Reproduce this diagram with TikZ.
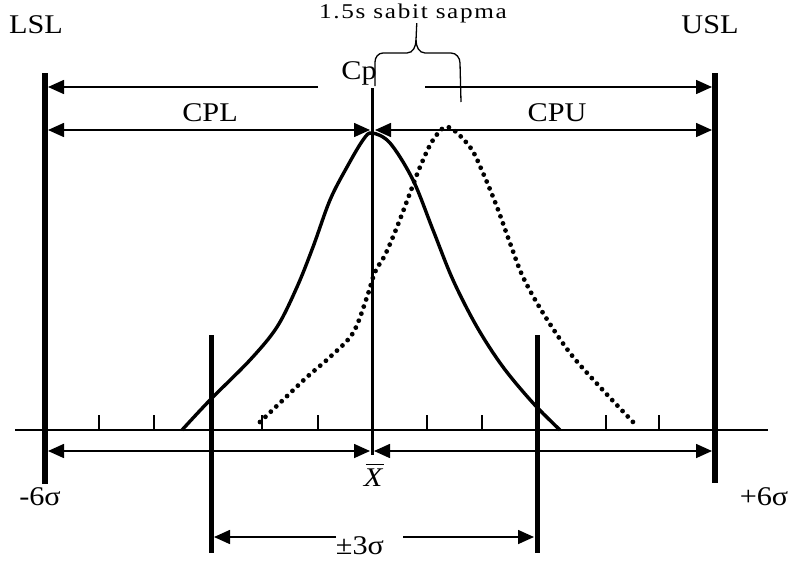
\documentclass[tikz,border=0pt]{standalone}
\usepackage{fontspec}
\setmainfont{Liberation Serif}
\newfontfamily\lblfont[FakeStretch=1.12]{Liberation Serif}
\newfontfamily\smallfont[FakeStretch=1.2, LetterSpace=8]{Liberation Serif}
\usetikzlibrary{arrows.meta}
\begin{document}
\begin{tikzpicture}[x=1pt,y=-1pt,
  lbl/.style={font=\lblfont\fontsize{27}{27}\selectfont, inner sep=0pt},
  smalllbl/.style={font=\smallfont\fontsize{21}{21}\selectfont, inner sep=0pt},
  arr/.style={line width=1.6pt, -{Triangle[length=16pt,width=14pt]}},
  darr/.style={line width=1.6pt, {Triangle[length=16pt,width=14pt]}-{Triangle[length=16pt,width=14pt]}},
  limbar/.style={line width=6pt},
  sigbar/.style={line width=5pt},
  tick/.style={line width=2pt},
  solidcurve/.style={line width=3.4pt, line join=round},
  dotcurve/.style={line width=4.8pt, line cap=round, dash pattern=on 0pt off 7.5pt},
]
\useasboundingbox (0,0) rectangle (789,560);

% limit bars
\coordinate (lslT) at (45,73);  \coordinate (lslB) at (45,484);
\coordinate (uslT) at (715,73); \coordinate (uslB) at (715,483);
\draw[limbar] (lslT) -- (lslB);
\draw[limbar] (uslT) -- (uslB);

% axis
\coordinate (axL) at (15,430); \coordinate (axR) at (768,430);
\draw[line width=1.5pt] (axL) -- (axR);
\foreach \t in {99,154,262,318,427,482,606,659}
  \draw[tick] (\t,430) -- (\t,415);

% sigma bars
\coordinate (m3T) at (211,335); \coordinate (m3B) at (211,553);
\coordinate (p3T) at (537,335); \coordinate (p3B) at (537,553);
\draw[sigbar] (m3T) -- (m3B);
\draw[sigbar] (p3T) -- (p3B);

% center line
\coordinate (cT) at (372,88); \coordinate (cB) at (372,455);
\draw[line width=3pt] (cT) -- (cB);

% curves
\draw[solidcurve] plot[smooth, tension=0.55] coordinates {
 (182,430) (210,400) (250,360) (277,327) (297,287) (313,247) (330,200)
 (347,167) (363,140) (372,133) (390,143) (413,180) (433,230) (453,280)
 (477,327) (503,367) (533,403) (560,430)};
\draw[dotcurve] plot[smooth, tension=0.55] coordinates {
 (260,422) (283,400) (307,377) (330,357) (353,333) (367,297) (375,272)
 (385,255) (397,227) (410,193) (420,167) (433,140) (448,127) (470,147)
 (483,173) (497,207) (510,243) (523,277) (543,313) (570,353) (600,387)
 (633,422)};

% Cp row
\coordinate (cpA) at (48,87);  \coordinate (cpB) at (318,87);
\coordinate (cpC) at (425,87); \coordinate (cpD) at (712,87);
\draw[arr] (cpB) -- (cpA);
\draw[arr] (cpC) -- (cpD);

% CPL / CPU row
\coordinate (r2A) at (48,130);  \coordinate (r2B) at (370,130);
\coordinate (r2C) at (375,130); \coordinate (r2D) at (712,130);
\draw[darr] (r2A) -- (r2B);
\draw[darr] (r2C) -- (r2D);

% lower row
\coordinate (r3A) at (48,451);  \coordinate (r3B) at (370,451);
\coordinate (r3C) at (374,451); \coordinate (r3D) at (712,451);
\draw[darr] (r3A) -- (r3B);
\draw[darr] (r3C) -- (r3D);

% bottom row
\coordinate (r4A) at (214,537); \coordinate (r4B) at (336,537);
\coordinate (r4C) at (403,537); \coordinate (r4D) at (534,537);
\draw[arr] (r4B) -- (r4A);
\draw[arr] (r4C) -- (r4D);

% brace
\draw[line width=1.3pt, line join=round]
  (375,86) -- (375,62) to[out=90,in=180] (383,53) -- (407,53)
  to[out=0,in=-90] (416,40) -- (417,18);
\draw[line width=1.3pt, line join=round]
  (416,40) to[out=-90,in=180] (425,53) -- (451,53)
  to[out=0,in=90] (460,63) -- (461,102);

% labels
\node[lbl] (lsl) at (36,25) {LSL};
\node[lbl] (usl) at (710,25) {USL};
\node[lbl] (cp) at (359,73) {Cp};
\node[lbl] (cpl) at (210,113) {CPL};
\node[lbl] (cpu) at (557,113) {CPU};
\node[smalllbl, fill=white, inner xsep=1pt] (shift) at (413,13) {1.5s sabit sapma};
\node[lbl, anchor=base] (xbar) at (373,486) {\itshape\rlap{\hspace{2pt}\rule[21pt]{18pt}{1.3pt}}X};
\node[lbl] (m6) at (40,497) {-6σ};
\node[lbl] (p6) at (764,497) {+6σ};
\node[lbl] (pm3) at (360,546) {±3σ};
\end{tikzpicture}
\end{document}
